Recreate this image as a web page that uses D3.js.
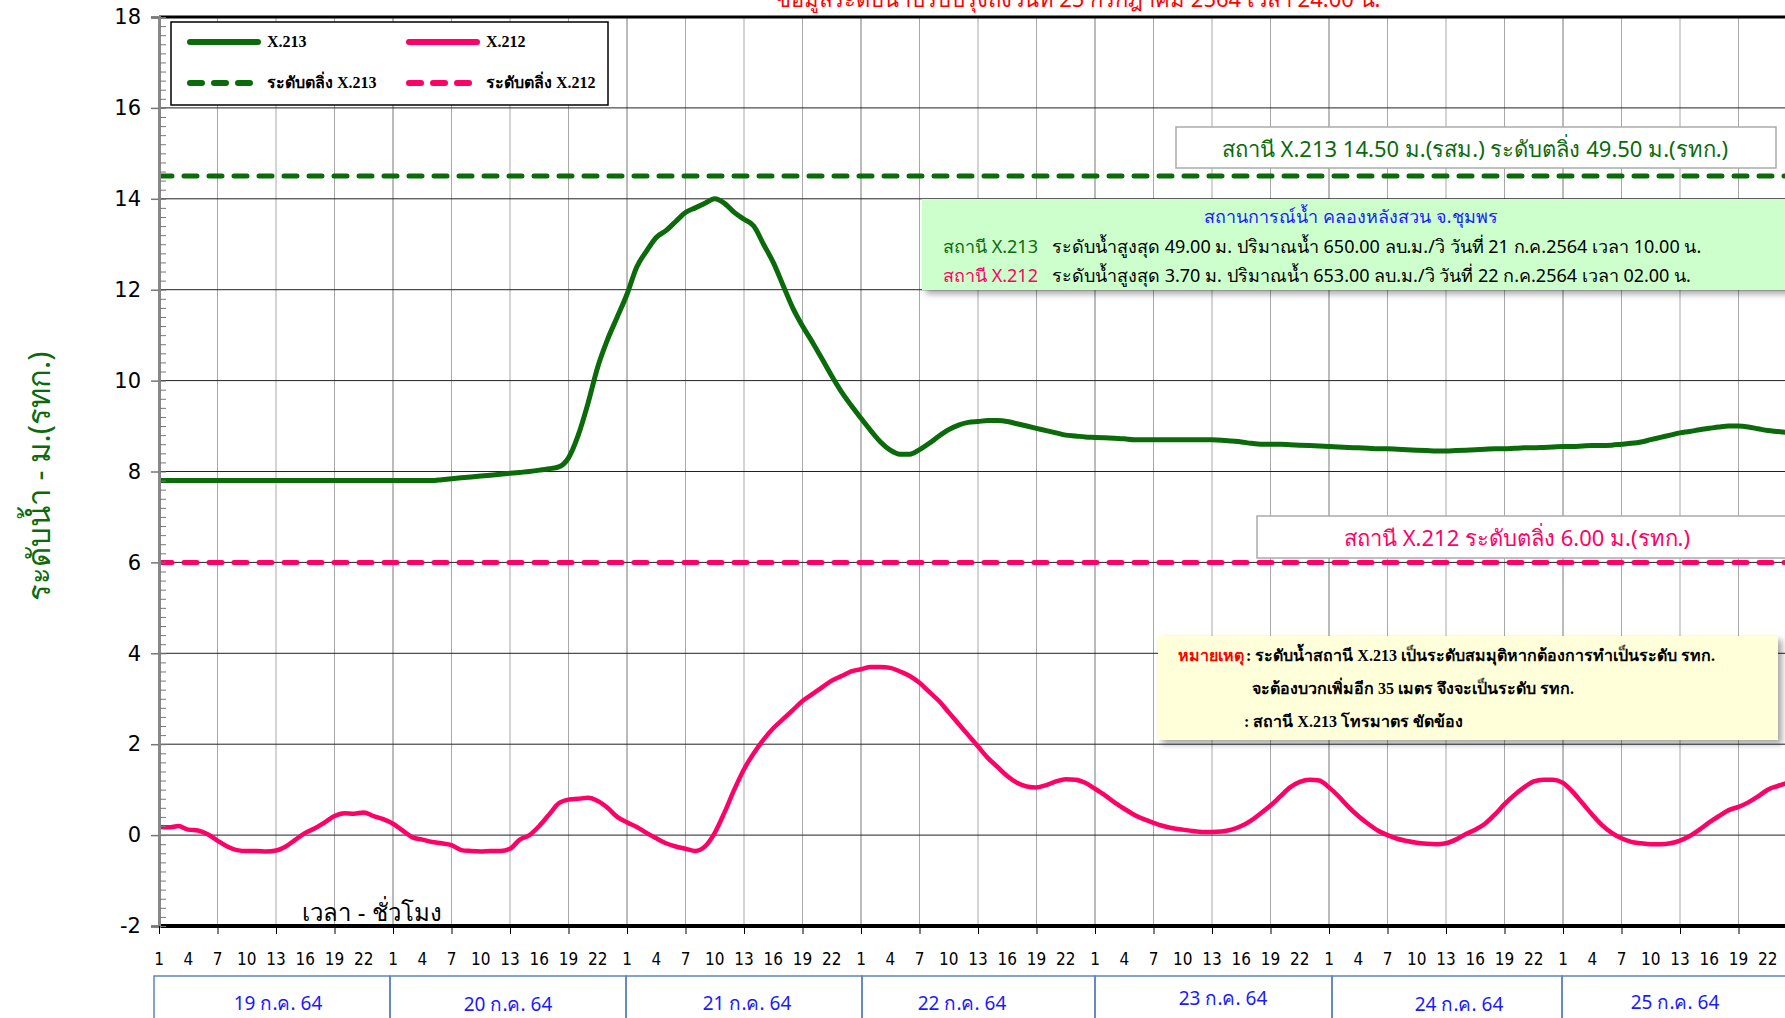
<!DOCTYPE html>
<html><head><meta charset="utf-8">
<script src="https://cdn.jsdelivr.net/npm/d3@7"></script>
<style>
html,body{margin:0;padding:0;background:#fff;overflow:hidden;}
svg{display:block;}
</style></head>
<body>
<svg id="chart" width="1785" height="1018"></svg>
<script>
// ---------- DATA ----------
const days = ["19 ก.ค. 64","20 ก.ค. 64","21 ก.ค. 64","22 ก.ค. 64","23 ก.ค. 64","24 ก.ค. 64","25 ก.ค. 64"];
const hourLabels = ["1","4","7","10","13","16","19","22"];
const yTicks = [-2,0,2,4,6,8,10,12,14,16,18];
const bankX213 = 14.5;
const bankX212 = 6.0;
const seriesNames = ["X.213","X.212"];
const bankNames = ["ระดับตลิ่ง X.213","ระดับตลิ่ง X.212"];

// hourly water level X.213 (index 0 = 19 Jul 01:00)
const x213 = [
7.8,7.8,7.8,7.8,7.8,7.8,7.8,7.8,7.8,7.8,7.8,7.8,7.8,7.8,7.8,7.8,7.8,7.8,7.8,7.8,7.8,7.8,7.8,7.8,
7.8,7.8,7.8,7.8,7.8,7.82,7.84,7.86,7.88,7.9,7.92,7.94,7.96,7.98,8.0,8.03,8.06,8.1,8.3,8.8,9.5,10.3,10.9,11.4,
11.9,12.5,12.85,13.15,13.3,13.5,13.7,13.8,13.9,14.0,13.9,13.7,13.55,13.4,13.0,12.6,12.1,11.6,11.2,10.85,10.48,10.1,9.75,9.45,
9.17,8.9,8.65,8.47,8.38,8.38,8.48,8.62,8.78,8.92,9.02,9.08,9.1,9.12,9.12,9.1,9.05,9.0,8.95,8.9,8.85,8.8,8.78,8.76,
8.75,8.74,8.73,8.72,8.7,8.7,8.7,8.7,8.7,8.7,8.7,8.7,8.7,8.69,8.67,8.65,8.62,8.6,8.6,8.6,8.59,8.58,8.57,8.56,
8.55,8.54,8.53,8.52,8.51,8.5,8.5,8.49,8.48,8.47,8.46,8.45,8.45,8.46,8.47,8.48,8.49,8.5,8.5,8.51,8.52,8.52,8.53,8.54,
8.55,8.55,8.56,8.57,8.57,8.58,8.6,8.62,8.65,8.7,8.75,8.8,8.85,8.88,8.92,8.95,8.98,9.0,9.0,8.98,8.94,8.9,8.88,8.86
];
// hourly water level X.212
const x212 = [
0.18,0.17,0.2,0.12,0.1,0.02,-0.12,-0.25,-0.33,-0.35,-0.35,-0.36,-0.34,-0.25,-0.1,0.05,0.15,0.28,0.42,0.48,0.47,0.5,0.42,0.35,
0.25,0.1,-0.05,-0.1,-0.15,-0.18,-0.22,-0.33,-0.35,-0.36,-0.35,-0.35,-0.3,-0.1,0.0,0.2,0.45,0.7,0.78,0.8,0.82,0.75,0.6,0.4,
0.28,0.18,0.05,-0.07,-0.18,-0.25,-0.3,-0.35,-0.25,0.05,0.5,1.0,1.45,1.8,2.1,2.35,2.55,2.75,2.95,3.1,3.25,3.4,3.5,3.6,
3.65,3.7,3.7,3.68,3.6,3.5,3.35,3.15,2.95,2.7,2.45,2.2,1.95,1.7,1.5,1.3,1.15,1.07,1.05,1.1,1.18,1.23,1.22,1.15,
1.02,0.88,0.72,0.58,0.45,0.35,0.27,0.2,0.15,0.12,0.09,0.07,0.07,0.08,0.12,0.2,0.32,0.48,0.65,0.85,1.05,1.17,1.22,1.2,
1.05,0.85,0.62,0.42,0.25,0.1,0.0,-0.08,-0.13,-0.17,-0.19,-0.2,-0.18,-0.1,0.02,0.12,0.25,0.45,0.68,0.88,1.05,1.18,1.22,1.22,
1.15,0.95,0.7,0.45,0.22,0.05,-0.07,-0.15,-0.18,-0.2,-0.2,-0.18,-0.12,-0.02,0.12,0.28,0.42,0.55,0.62,0.72,0.85,1.0,1.08,1.15
];

const titleText = "ข้อมูลระดับน้ำปรับปรุงถึงวันที่  25 กรกฎาคม 2564  เวลา  24.00 น.";
const bankNote213 = "สถานี X.213 14.50 ม.(รสม.) ระดับตลิ่ง 49.50 ม.(รทก.)";
const bankNote212 = "สถานี X.212 ระดับตลิ่ง 6.00 ม.(รทก.)";
const infoTitle = "สถานการณ์น้ำ คลองหลังสวน  จ.ชุมพร";
const infoStations = ["สถานี X.213","สถานี X.212"];
const infoLines = [
 "ระดับน้ำสูงสุด 49.00 ม. ปริมาณน้ำ 650.00 ลบ.ม./วิ วันที่ 21 ก.ค.2564 เวลา 10.00 น.",
 "ระดับน้ำสูงสุด 3.70 ม. ปริมาณน้ำ 653.00 ลบ.ม./วิ วันที่ 22 ก.ค.2564 เวลา 02.00 น."
];
const noteHead = "หมายเหตุ";
const noteLines = [
 ": ระดับน้ำสถานี X.213  เป็นระดับสมมุติหากต้องการทำเป็นระดับ รทก.",
 "จะต้องบวกเพิ่มอีก 35 เมตร จึงจะเป็นระดับ รทก.",
 ": สถานี X.213 โทรมาตร ขัดข้อง"
];
const yLabel = "ระดับน้ำ     -     ม.(รทก.)";
const xLabel = "เวลา - ชั่วโมง";

// ---------- STYLE ----------
const GREEN = "#0b6b0b", PINK = "#ff0066";
const thai = "Tahoma, 'Noto Sans', 'DejaVu Sans', sans-serif";
const serif = "'Liberation Serif', 'Times New Roman', serif";

const svg = d3.select("#chart");
const W = 1785, H = 1018;
const x0 = 159, hourW = 9.75;
const x = d3.scaleLinear().domain([0, 168]).range([x0, x0 + 168 * hourW]);
const y = d3.scaleLinear().domain([-2, 18]).range([926, 17]);

const defs = svg.append("defs");
defs.append("clipPath").attr("id","clip").append("rect")
  .attr("x", x0).attr("y", 0).attr("width", W - x0).attr("height", 930);
const f = defs.append("filter").attr("id","shadow").attr("x","-5%").attr("y","-10%").attr("width","115%").attr("height","130%");
f.append("feDropShadow").attr("dx",4).attr("dy",4).attr("stdDeviation",3).attr("flood-color","#000").attr("flood-opacity",0.35);

// title (partly cut at top)
svg.append("text").attr("x", 1078).attr("y", 7).attr("text-anchor","middle")
  .attr("font-family", thai).attr("font-size", 22).attr("fill","#ff0000").text(titleText);

// grid
const g = svg.append("g").attr("clip-path","url(#clip)");
const vgrid = d3.range(0, 169, 6);
g.selectAll(".vg").data(vgrid).enter().append("line")
  .attr("x1", d => x(d)).attr("x2", d => x(d)).attr("y1", y(18)).attr("y2", y(-2))
  .attr("stroke", d => d % 24 === 0 ? "#777" : "#a8a8a8").attr("stroke-width", 1);
g.selectAll(".hg").data(yTicks.filter(d => d > -2 && d < 18)).enter().append("line")
  .attr("x1", x0).attr("x2", W).attr("y1", d => y(d)).attr("y2", d => y(d))
  .attr("stroke", "#222").attr("stroke-width", 1);
svg.append("line").attr("x1", x0).attr("x2", W).attr("y1", y(18)).attr("y2", y(18)).attr("stroke","#000").attr("stroke-width",3);
svg.append("line").attr("x1", x0).attr("x2", W).attr("y1", y(-2)).attr("y2", y(-2)).attr("stroke","#000").attr("stroke-width",4);

// y axis
const yAxis = d3.axisLeft(y).tickValues(yTicks).tickSize(8).tickFormat(d => String(d));
const ya = svg.append("g").attr("transform", `translate(${x0},0)`).call(yAxis);
ya.select(".domain").attr("stroke","#888").attr("stroke-width",3);
ya.selectAll(".tick line").attr("stroke","#777").attr("stroke-width",1.5);
ya.selectAll(".tick text").attr("font-family","'DejaVu Sans', Verdana, sans-serif").attr("font-size",21).attr("fill","#000").attr("x",-18);
const yMinor = d3.axisRight(y).tickValues(d3.range(-2, 18.01, 0.2)).tickSize(6).tickFormat("");
const ym = svg.append("g").attr("transform", `translate(${x0+1},0)`).call(yMinor);
ym.select(".domain").remove();
ym.selectAll(".tick line").attr("stroke","#777").attr("stroke-width",1);

// x axis ticks
const xAxis = d3.axisBottom(x).tickValues(d3.range(0, 167, 6)).tickSize(8).tickFormat("");
const xa = svg.append("g").attr("transform", `translate(0,${y(-2)})`).call(xAxis);
xa.select(".domain").remove();
xa.selectAll(".tick line").attr("stroke","#000");
// hour labels
const hourTicks = [];
days.forEach((dname, di) => hourLabels.forEach((h, hi) => hourTicks.push({i: di * 24 + hi * 3, t: h})));
svg.selectAll(".hl").data(hourTicks).enter().append("text")
  .attr("x", d => x(d.i)).attr("y", 965).attr("text-anchor","middle")
  .attr("font-family","'DejaVu Sans Condensed', 'DejaVu Sans', sans-serif").attr("font-size",17).attr("fill","#000")
  .text(d => d.t);

// day boxes
const dayEdges = [154, 390, 626, 862, 1095, 1332, 1562, 1800];
const dayCx = [278, 508, 747, 962, 1223, 1459, 1675];
const dayY = [1010, 1011, 1010, 1010, 1005, 1011, 1009];
days.forEach((dname, di) => {
  svg.append("rect").attr("x", dayEdges[di]).attr("y", 976).attr("width", dayEdges[di+1] - dayEdges[di]).attr("height", 60)
    .attr("fill","none").attr("stroke","#5b85bf").attr("stroke-width",1.5);
  svg.append("text").attr("x", dayCx[di]).attr("y", dayY[di])
    .attr("text-anchor","middle").attr("font-family", thai).attr("font-size", 19).attr("fill","#1a1aff").text(dname);
});

// axis titles
svg.append("text").attr("transform","translate(50,476) rotate(-90)").attr("text-anchor","middle")
  .attr("font-family", thai).attr("font-size", 31).attr("fill", GREEN).text(yLabel);
svg.append("text").attr("x", 372).attr("y", 921).attr("text-anchor","middle")
  .attr("font-family", thai).attr("font-size", 24).attr("fill","#000").text(xLabel);

// bank lines
g.append("line").attr("x1", x0).attr("x2", W).attr("y1", y(bankX213)).attr("y2", y(bankX213))
  .attr("stroke", GREEN).attr("stroke-width",5).attr("stroke-dasharray","13 12").attr("stroke-linecap","round");
g.append("line").attr("x1", x0).attr("x2", W).attr("y1", y(bankX212)).attr("y2", y(bankX212))
  .attr("stroke", PINK).attr("stroke-width",5).attr("stroke-dasharray","13 12").attr("stroke-linecap","round");

// series
const line = d3.line().x((d, i) => x(i)).y(d => y(d)).curve(d3.curveMonotoneX);
g.append("path").datum(x213).attr("d", line).attr("fill","none").attr("stroke", GREEN).attr("stroke-width",5).attr("stroke-linejoin","round");
g.append("path").datum(x212).attr("d", line).attr("fill","none").attr("stroke", PINK).attr("stroke-width",4.5).attr("stroke-linejoin","round");

// legend
const lg = svg.append("g");
lg.append("rect").attr("x",171).attr("y",22).attr("width",437).attr("height",83).attr("fill","#fff").attr("stroke","#000").attr("stroke-width",1.5);
const legItems = [
  {lx:190, ly:42, c:GREEN, dash:null, t:seriesNames[0]},
  {lx:409, ly:42, c:PINK, dash:null, t:seriesNames[1]},
  {lx:190, ly:83, c:GREEN, dash:"12 12", t:bankNames[0]},
  {lx:409, ly:83, c:PINK, dash:"12 12", t:bankNames[1]}
];
legItems.forEach(d => {
  lg.append("line").attr("x1", d.lx).attr("x2", d.lx + 68).attr("y1", d.ly).attr("y2", d.ly)
    .attr("stroke", d.c).attr("stroke-width", 6).attr("stroke-linecap","round").attr("stroke-dasharray", d.dash);
  lg.append("text").attr("x", d.lx + 77).attr("y", d.ly + 5).attr("font-family", serif).attr("font-weight","bold")
    .attr("font-size", 16).attr("fill","#000").text(d.t);
});

// bank note boxes
svg.append("rect").attr("x",1176).attr("y",127).attr("width",600).attr("height",41).attr("fill","#fff").attr("stroke","#aaa").attr("stroke-width",1.5);
svg.append("text").attr("x",1475).attr("y",157).attr("text-anchor","middle").attr("font-family", thai).attr("font-size",22).attr("fill", GREEN).text(bankNote213);
svg.append("rect").attr("x",1257).attr("y",516).attr("width",540).attr("height",42).attr("fill","#fff").attr("stroke","#aaa").attr("stroke-width",1.5);
svg.append("text").attr("x",1517).attr("y",546).attr("text-anchor","middle").attr("font-family", thai).attr("font-size",22).attr("fill", PINK).text(bankNote212);

// info box
svg.append("rect").attr("x",922).attr("y",199).attr("width",870).attr("height",91).attr("fill","#ccffcc").attr("filter","url(#shadow)");
svg.append("text").attr("x",1351).attr("y",223).attr("text-anchor","middle").attr("font-family", thai).attr("font-size",18).attr("fill","#1a1aff").text(infoTitle);
[GREEN, PINK].forEach((c, i) => {
  svg.append("text").attr("x",943).attr("y",253 + i * 29).attr("font-family", thai).attr("font-size",18).attr("fill", c).text(infoStations[i]);
  svg.append("text").attr("x",1052).attr("y",253 + i * 29).attr("font-family", thai).attr("font-size",18).attr("fill","#000").text(infoLines[i]);
});

// remark box
svg.append("rect").attr("x",1158).attr("y",636).attr("width",620).attr("height",104).attr("fill","#ffffd9").attr("filter","url(#shadow)");
svg.append("text").attr("x",1178).attr("y",661).attr("font-family", serif).attr("font-weight","bold").attr("font-size",16).attr("fill","#ff0000").text(noteHead);
svg.append("text").attr("x",1246).attr("y",661).attr("font-family", serif).attr("font-weight","bold").attr("font-size",16).attr("fill","#000").text(noteLines[0]);
svg.append("text").attr("x",1252).attr("y",694).attr("font-family", serif).attr("font-weight","bold").attr("font-size",16).attr("fill","#000").text(noteLines[1]);
svg.append("text").attr("x",1244).attr("y",727).attr("font-family", serif).attr("font-weight","bold").attr("font-size",16).attr("fill","#000").text(noteLines[2]);
</script>
</body></html>
